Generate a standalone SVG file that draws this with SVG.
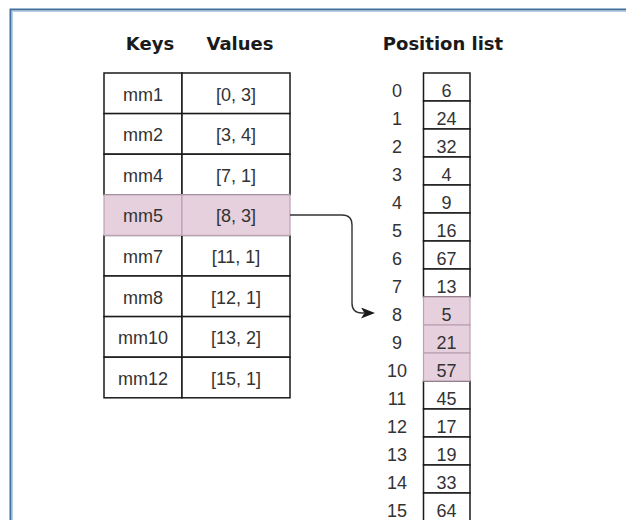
<svg xmlns="http://www.w3.org/2000/svg" width="626" height="520" viewBox="0 0 626 520">
  <style>
    .hdr { font-family: "DejaVu Sans", "Liberation Sans", sans-serif; font-weight: bold; font-size: 18px; fill: #1a1a1a; text-anchor: middle; }
    .txt { font-family: "Liberation Sans", Arial, sans-serif; font-size: 18px; fill: #333333; text-anchor: middle; }
    .cell { fill: #ffffff; stroke: #1a1a1a; stroke-width: 1.5; }
    .hit { fill: #e6d0de; stroke: #bba2b2; stroke-width: 1.2; }
    .link { fill: none; stroke: #333333; stroke-width: 1.4; }
  </style>
  <defs>
    <marker id="arrowhead" markerUnits="userSpaceOnUse" markerWidth="16" markerHeight="13" refX="3.5" refY="5.5" orient="auto">
      <path d="M0,0 L14,5.5 L0,11 L3.5,5.5 Z" fill="#1a1a1a"/>
    </marker>
  </defs>

  <rect width="626" height="520" fill="#ffffff"/>

  <!-- frame -->
  <path d="M10.5,520 V9.5 H626" fill="none" stroke="#41709e" stroke-width="2"/>
  <path d="M12.5,520 V11.5 H626" fill="none" stroke="#b6cde4" stroke-width="1"/>

  <!-- headings -->
  <text class="hdr" x="150" y="50">Keys</text>
  <text class="hdr" x="240" y="50">Values</text>
  <text class="hdr" x="443" y="50">Position list</text>

  <!-- key / value table -->
  <g id="row-mm1">
    <rect class="cell" x="104" y="73" width="78" height="40.6"/>
    <rect class="cell" x="182" y="73" width="108" height="40.6"/>
    <text class="txt" x="143" y="100.5">mm1</text>
    <text class="txt" x="236" y="100.5">[0, 3]</text>
  </g>
  <g id="row-mm2">
    <rect class="cell" x="104" y="113.6" width="78" height="40.6"/>
    <rect class="cell" x="182" y="113.6" width="108" height="40.6"/>
    <text class="txt" x="143" y="141.1">mm2</text>
    <text class="txt" x="236" y="141.1">[3, 4]</text>
  </g>
  <g id="row-mm4">
    <rect class="cell" x="104" y="154.2" width="78" height="40.6"/>
    <rect class="cell" x="182" y="154.2" width="108" height="40.6"/>
    <text class="txt" x="143" y="181.7">mm4</text>
    <text class="txt" x="236" y="181.7">[7, 1]</text>
  </g>
  <g id="row-mm7">
    <rect class="cell" x="104" y="235.4" width="78" height="40.6"/>
    <rect class="cell" x="182" y="235.4" width="108" height="40.6"/>
    <text class="txt" x="143" y="262.9">mm7</text>
    <text class="txt" x="236" y="262.9">[11, 1]</text>
  </g>
  <g id="row-mm8">
    <rect class="cell" x="104" y="276" width="78" height="40.6"/>
    <rect class="cell" x="182" y="276" width="108" height="40.6"/>
    <text class="txt" x="143" y="303.5">mm8</text>
    <text class="txt" x="236" y="303.5">[12, 1]</text>
  </g>
  <g id="row-mm10">
    <rect class="cell" x="104" y="316.6" width="78" height="40.6"/>
    <rect class="cell" x="182" y="316.6" width="108" height="40.6"/>
    <text class="txt" x="143" y="344.1">mm10</text>
    <text class="txt" x="236" y="344.1">[13, 2]</text>
  </g>
  <g id="row-mm12">
    <rect class="cell" x="104" y="357.2" width="78" height="40.6"/>
    <rect class="cell" x="182" y="357.2" width="108" height="40.6"/>
    <text class="txt" x="143" y="384.7">mm12</text>
    <text class="txt" x="236" y="384.7">[15, 1]</text>
  </g>
  <g id="row-mm5">
    <rect class="hit" x="104" y="194.8" width="78" height="40.6"/>
    <rect class="hit" x="182" y="194.8" width="108" height="40.6"/>
    <text class="txt" x="143" y="222.3">mm5</text>
    <text class="txt" x="236" y="222.3">[8, 3]</text>
  </g>

  <!-- position list -->
  <g id="positions">
    <g id="pos-0"><rect class="cell" x="423.5" y="73" width="46.5" height="28"/><text class="txt" x="397" y="97">0</text><text class="txt" x="446.5" y="97">6</text></g>
    <g id="pos-1"><rect class="cell" x="423.5" y="101" width="46.5" height="28"/><text class="txt" x="397" y="125">1</text><text class="txt" x="446.5" y="125">24</text></g>
    <g id="pos-2"><rect class="cell" x="423.5" y="129" width="46.5" height="28"/><text class="txt" x="397" y="153">2</text><text class="txt" x="446.5" y="153">32</text></g>
    <g id="pos-3"><rect class="cell" x="423.5" y="157" width="46.5" height="28"/><text class="txt" x="397" y="181">3</text><text class="txt" x="446.5" y="181">4</text></g>
    <g id="pos-4"><rect class="cell" x="423.5" y="185" width="46.5" height="28"/><text class="txt" x="397" y="209">4</text><text class="txt" x="446.5" y="209">9</text></g>
    <g id="pos-5"><rect class="cell" x="423.5" y="213" width="46.5" height="28"/><text class="txt" x="397" y="237">5</text><text class="txt" x="446.5" y="237">16</text></g>
    <g id="pos-6"><rect class="cell" x="423.5" y="241" width="46.5" height="28"/><text class="txt" x="397" y="265">6</text><text class="txt" x="446.5" y="265">67</text></g>
    <g id="pos-7"><rect class="cell" x="423.5" y="269" width="46.5" height="28"/><text class="txt" x="397" y="293">7</text><text class="txt" x="446.5" y="293">13</text></g>
    <g id="pos-11"><rect class="cell" x="423.5" y="381" width="46.5" height="28"/><text class="txt" x="397" y="405">11</text><text class="txt" x="446.5" y="405">45</text></g>
    <g id="pos-12"><rect class="cell" x="423.5" y="409" width="46.5" height="28"/><text class="txt" x="397" y="433">12</text><text class="txt" x="446.5" y="433">17</text></g>
    <g id="pos-13"><rect class="cell" x="423.5" y="437" width="46.5" height="28"/><text class="txt" x="397" y="461">13</text><text class="txt" x="446.5" y="461">19</text></g>
    <g id="pos-14"><rect class="cell" x="423.5" y="465" width="46.5" height="28"/><text class="txt" x="397" y="489">14</text><text class="txt" x="446.5" y="489">33</text></g>
    <g id="pos-15"><rect class="cell" x="423.5" y="493" width="46.5" height="28"/><text class="txt" x="397" y="517">15</text><text class="txt" x="446.5" y="517">64</text></g>
    <g id="pos-8"><rect class="hit" x="423.5" y="297" width="46.5" height="28"/><text class="txt" x="397" y="321">8</text><text class="txt" x="446.5" y="321">5</text></g>
    <g id="pos-9"><rect class="hit" x="423.5" y="325" width="46.5" height="28"/><text class="txt" x="397" y="349">9</text><text class="txt" x="446.5" y="349">21</text></g>
    <g id="pos-10"><rect class="hit" x="423.5" y="353" width="46.5" height="28"/><text class="txt" x="397" y="377">10</text><text class="txt" x="446.5" y="377">57</text></g>
  </g>

  <!-- connectors -->
  <g id="connectors">
    <path class="link" d="M290,215 H342 Q352,215 352,225 V303 Q352,313 362,313 H364.5" marker-end="url(#arrowhead)"/>
  </g>
</svg>
